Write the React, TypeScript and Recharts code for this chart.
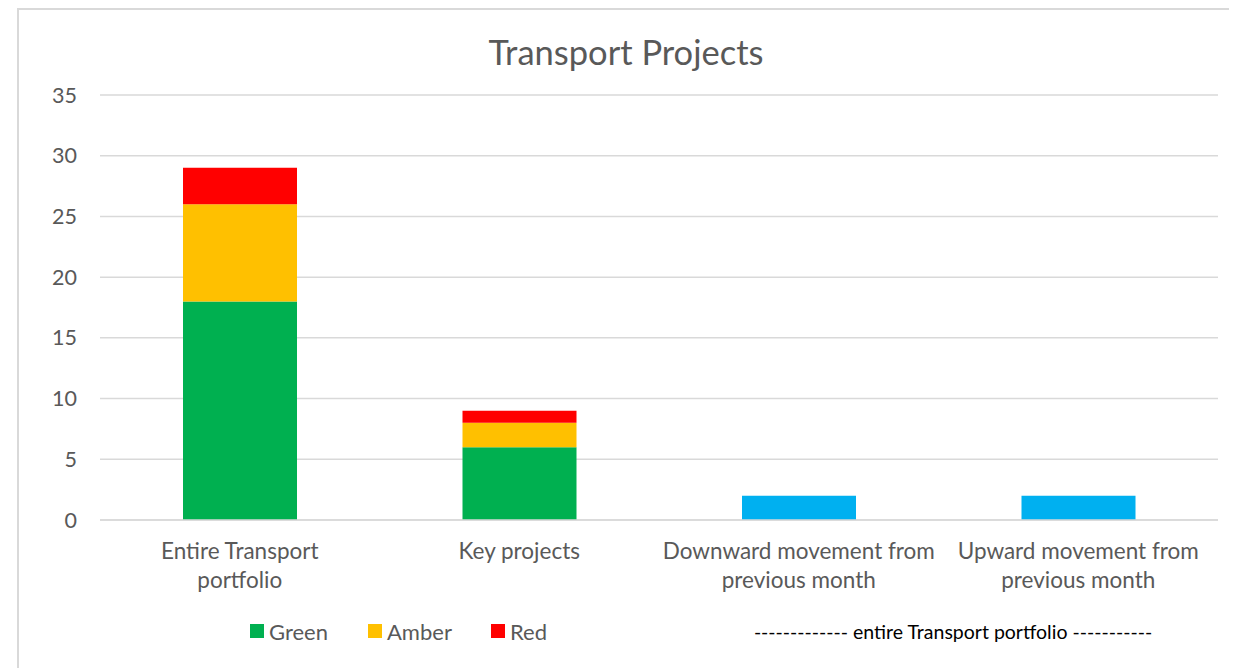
import React from "react";
import { BarChart, Bar, XAxis, YAxis, CartesianGrid, Legend } from "recharts";

const categories = [
  "Entire Transport\nportfolio",
  "Key projects",
  "Downward movement from\nprevious month",
  "Upward movement from\nprevious month",
];
const greenValues = [18, 6, 0, 0];
const amberValues = [8, 2, 0, 0];
const redValues = [3, 1, 0, 0];
const movementValues = [0, 0, 2, 2];
const yTicks = [0, 5, 10, 15, 20, 25, 30, 35];
const legendItems = [
  { name: "Green", color: "#00B050" },
  { name: "Amber", color: "#FFC000" },
  { name: "Red", color: "#FF0000" },
];
const legendNote = "------------- entire Transport portfolio -----------";
const title = "Transport Projects";

const data = categories.map((c, i) => ({
  name: c,
  green: greenValues[i],
  amber: amberValues[i],
  red: redValues[i],
  movement: movementValues[i],
}));

const FONT = "Lato, 'Open Sans', sans-serif";

const XTick = (props: any) => {
  const { x, y, payload } = props;
  const lines = String(payload.value).split("\n");
  return (
    <g transform={`translate(${x},${y})`}>
      {lines.map((l: string, i: number) => (
        <text
          key={i}
          x={0}
          y={22 + i * 29}
          textAnchor="middle"
          dominantBaseline="central"
          fill="#595959"
          fontSize={22.5}
          fontFamily={FONT}
        >
          {l}
        </text>
      ))}
    </g>
  );
};

const LegendContent = () => (
  <div style={{ position: "relative", width: 1229, height: 30, fontFamily: FONT }}>
    {legendItems.map((it, i) => (
      <div
        key={it.name}
        style={{
          position: "absolute",
          left: [242, 360, 483][i],
          top: 0,
          display: "flex",
          alignItems: "center",
          height: 30,
          fontSize: 22,
          color: "#595959",
        }}
      >
        <span style={{ display: "inline-block", width: 14, height: 14, background: it.color, marginRight: 5 }} />
        {it.name}
      </div>
    ))}
    <div
      style={{
        position: "absolute",
        left: 747,
        width: 396,
        top: 0,
        height: 30,
        display: "flex",
        alignItems: "center",
        justifyContent: "center",
        fontSize: 19.5,
        color: "#000",
        whiteSpace: "nowrap",
      }}
    >
      {legendNote}
    </div>
  </div>
);

export default function App() {
  return (
    <div style={{ position: "relative", width: 1229, height: 660, overflow: "hidden", background: "#fff" }}>
      <div
        style={{
          position: "absolute",
          left: 9,
          top: 0,
          width: 1300,
          height: 700,
          borderTop: "2px solid #d9d9d9",
          borderLeft: "2px solid #d9d9d9",
        }}
      />
      <div
        style={{
          position: "absolute",
          left: 0,
          top: 24,
          width: 1236,
          textAlign: "center",
          fontFamily: FONT,
          fontSize: 34.5,
          color: "#595959",
          lineHeight: "40px",
        }}
      >
        {title}
      </div>
      <div style={{ position: "absolute", left: 0, top: 0 }}>
        <BarChart
          width={1229}
          height={660}
          data={data}
          margin={{ top: 87, right: 19, bottom: 58, left: 0 }}
          barSize={114}
        >
          <CartesianGrid vertical={false} stroke="#d9d9d9" strokeWidth={1.5} />
          <XAxis
            dataKey="name"
            axisLine={{ stroke: "#d9d9d9", strokeWidth: 1.5 }}
            tickLine={false}
            tick={<XTick />}
            interval={0}
            height={60}
          />
          <YAxis
            width={92}
            domain={[0, 35]}
            ticks={yTicks}
            axisLine={false}
            tickLine={false}
            tickSize={0}
            tickMargin={23}
            tick={{ fill: "#595959", fontSize: 21.5, fontFamily: FONT }}
          />
          <Legend
            verticalAlign="bottom"
            content={<LegendContent />}
            wrapperStyle={{ left: 0, top: 608, width: 1229 }}
          />
          <Bar dataKey="green" stackId="a" fill="#00B050" isAnimationActive={false} />
          <Bar dataKey="amber" stackId="a" fill="#FFC000" isAnimationActive={false} />
          <Bar dataKey="red" stackId="a" fill="#FF0000" isAnimationActive={false} />
          <Bar dataKey="movement" stackId="a" fill="#00B0F0" isAnimationActive={false} />
        </BarChart>
      </div>
    </div>
  );
}
